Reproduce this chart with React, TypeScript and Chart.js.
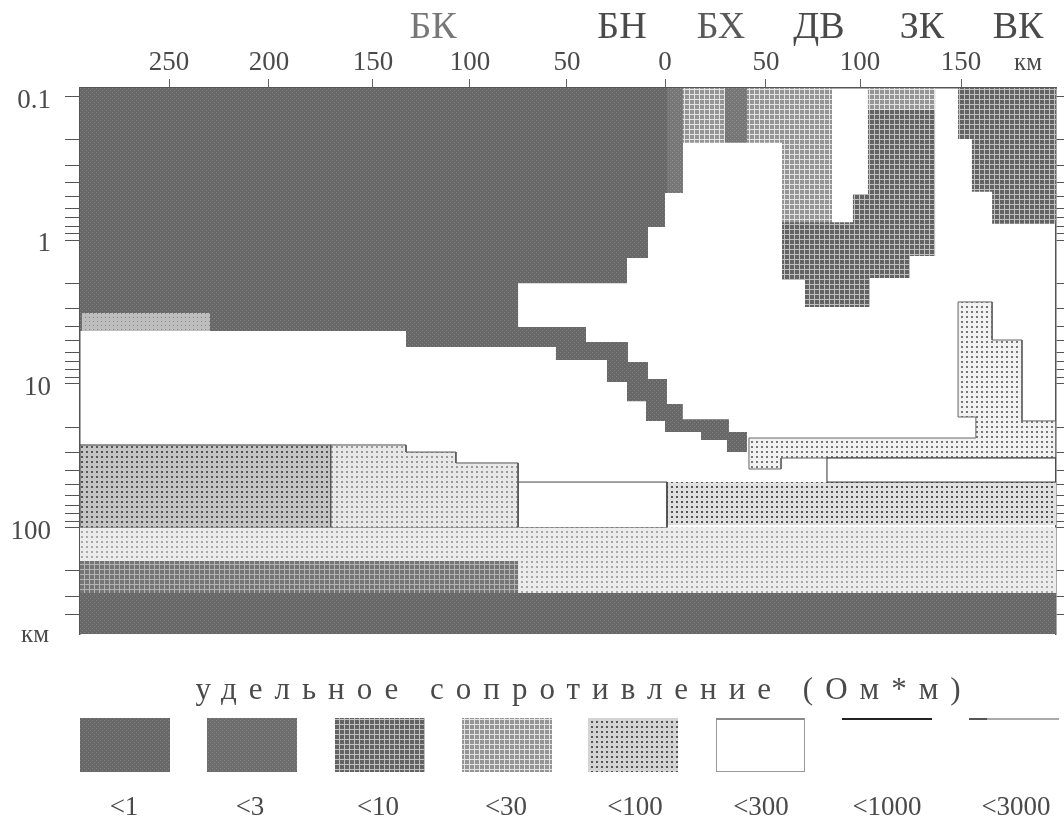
import React, { useEffect, useRef } from "react";
import { Chart, registerables } from "chart.js";

Chart.register(...registerables);

type Pair = [number, number]; // [distance km, depth km]

// Axis values
const xMin = -295.45;
const xMax = 197.47;
const depthMin = 0.0873;
const depthMax = 550;
const xTickValues = [-250.5, -200, -147.5, -98.5, -49.5, 0, 51, 98.5, 149.5];
const xTickLabels = ["250", "200", "150", "100", "50", "0", "50", "100", "150"];
const depthTicks = [0.1, 0.2, 0.3, 0.4, 0.5, 0.6, 0.7, 0.8, 0.9, 1, 2, 3, 4, 5, 6, 7, 8, 9, 10, 20, 30, 40, 50, 60, 70, 80, 90, 100, 200, 300, 400];
const depthLabels = [0.1, 1, 10, 100];

// Text
const stationNames = ["БК", "БН", "БХ", "ДВ", "ЗК", "ВК"];
const legendTitle = "удельное сопротивление (Ом*м)";
const legendLabels = ["<1", "<3", "<10", "<30", "<100", "<300", "<1000", "<3000"];

// Regions of the section, km / depth
const mainConductor: Pair[] = [[xMin, depthMin], [9, depthMin], [9, 0.47], [0, 0.47], [0, 0.81], [-8.6, 0.81], [-8.6, 1.33], [-19.2, 1.33], [-19.2, 1.99], [-74.2, 1.99], [-74.2, 4.02], [-39.9, 4.02], [-39.9, 5.11], [-18.7, 5.11], [-18.7, 7.04], [-8.6, 7.04], [-8.6, 9.24], [1, 9.24], [1, 13.8], [9, 13.8], [9, 17.6], [32.3, 17.6], [32.3, 21.6], [41.4, 21.6], [41.4, 29.8], [31.3, 29.8], [31.3, 24.6], [18.2, 24.6], [18.2, 21.6], [0, 21.6], [0, 18.1], [-9.6, 18.1], [-9.6, 13.2], [-19.2, 13.2], [-19.2, 9.7], [-29.3, 9.7], [-29.3, 6.82], [-55.1, 6.82], [-55.1, 5.54], [-130.8, 5.54], [-130.8, 4.28], [xMin, 4.28]];
const shallowStrip: Pair[] = [[1, depthMin], [9, depthMin], [9, 0.47], [1, 0.47]];
const topPatch: Pair[] = [[-294.5, 3.21], [-229.8, 3.21], [-229.8, 4.28], [-294.5, 4.28]];
const topBlockA: Pair[] = [[9, depthMin], [30.3, depthMin], [30.3, 0.21], [9, 0.21]];
const topBlockB: Pair[] = [[30.3, depthMin], [41.4, depthMin], [41.4, 0.21], [30.3, 0.21]];
const centralBody: Pair[] = [[59.1, depthMin], [84.3, depthMin], [84.3, 0.75], [94.9, 0.75], [94.9, 0.477], [102.5, 0.477], [102.5, depthMin], [136.4, depthMin], [136.4, 1.29], [123.7, 1.29], [123.7, 1.83], [103.5, 1.83], [103.5, 2.92], [70.7, 2.92], [70.7, 1.89], [59.1, 1.89]];
const centralLeft: Pair[] = [[41.4, depthMin], [84.3, depthMin], [84.3, 0.75], [59.1, 0.75], [59.1, 0.21], [41.4, 0.21]];
const centralRightCap: Pair[] = [[102.5, depthMin], [136.4, depthMin], [136.4, 0.124], [102.5, 0.124]];
const eastBody: Pair[] = [[148, depthMin], [xMax, depthMin], [xMax, 0.77], [165.2, 0.77], [165.2, 0.46], [155, 0.46], [155, 0.198], [148, 0.198]];
const eastBand: Pair[] = [[42.4, 23.8], [157, 23.8], [157, 17], [148, 17], [148, 2.69], [165.2, 2.69], [165.2, 4.95], [180.3, 4.95], [180.3, 18.1], [xMax, 18.1], [xMax, 32.8], [58.6, 32.8], [58.6, 39.1], [42.4, 39.1]];
const eastLower: Pair[] = [[1, 48.2], [xMax, 48.2], [xMax, 95.9], [1, 95.9]];
const resistiveA: Pair[] = [[-74.2, 48.2], [1, 48.2], [1, 100], [-74.2, 100]];
const resistiveB: Pair[] = [[81.8, 32.8], [xMax, 32.8], [xMax, 48.2], [81.8, 48.2]];
const westBlock: Pair[] = [[xMin, 26.6], [-168.7, 26.6], [-168.7, 100], [xMin, 100]];
const westSteps: Pair[] = [[-168.7, 26.6], [-130.8, 26.6], [-130.8, 29.8], [-105.6, 29.8], [-105.6, 35.5], [-74.2, 35.5], [-74.2, 100], [-168.7, 100]];
const deepLayer: Pair[] = [[xMin, 100], [xMax, 100], [xMax, 285], [-74.2, 285], [-74.2, 171], [xMin, 171]];
const deepWest: Pair[] = [[xMin, 171], [-74.2, 171], [-74.2, 285], [xMin, 285]];
const bottomLayer: Pair[] = [[xMin, 285], [xMax, 285], [xMax, depthMax], [xMin, depthMax]];

const regions: { label: string; points: Pair[]; tex: string; line?: string }[] = [
  { label: "<1", points: mainConductor, tex: "dark" },
  { label: "<3", points: shallowStrip, tex: "mid" },
  { label: "<100", points: topPatch, tex: "patch" },
  { label: "<30", points: topBlockA, tex: "grid30" },
  { label: "<3", points: topBlockB, tex: "mid" },
  { label: "<10", points: centralBody, tex: "grid10" },
  { label: "<30", points: centralLeft, tex: "grid30" },
  { label: "<30", points: centralRightCap, tex: "grid30" },
  { label: "<10", points: eastBody, tex: "grid10" },
  { label: "<100", points: eastBand, tex: "dots100", line: "#666666" },
  { label: "<30", points: eastLower, tex: "dots30b" },
  { label: "<300", points: resistiveA, tex: "white", line: "#444444" },
  { label: "<300", points: resistiveB, tex: "white", line: "#333333" },
  { label: "<30", points: westBlock, tex: "dots30", line: "#444444" },
  { label: "<100", points: westSteps, tex: "dots100b", line: "#555555" },
  { label: "<100", points: deepLayer, tex: "deep100" },
  { label: "<10", points: deepWest, tex: "grid10b" },
  { label: "<1", points: bottomLayer, tex: "dark" },
];

const SERIF = '"Liberation Serif", serif';
const INK = "#4a4a4a";

function tile(size: number, bg: string, fg: string, kind: "dots" | "grid" | "check", dot = 1): CanvasPattern {
  const c = document.createElement("canvas");
  c.width = size;
  c.height = size;
  const g = c.getContext("2d")!;
  g.fillStyle = bg;
  g.fillRect(0, 0, size, size);
  g.fillStyle = fg;
  if (kind === "dots") g.fillRect(1, 1, dot, dot);
  if (kind === "grid") {
    g.fillRect(size - 1, 0, 1, size);
    g.fillRect(0, size - 1, size, 1);
  }
  if (kind === "check") {
    g.fillRect(0, 0, 1, 1);
    g.fillRect(2, 2, 1, 1);
  }
  return g.createPattern(c, "repeat")!;
}

function makeTextures(): Record<string, CanvasPattern | string> {
  return {
    dark: tile(4, "#686868", "#828282", "check"),
    mid: tile(4, "#767676", "#929292", "check"),
    swatch3: tile(4, "#6d6d6d", "#868686", "check"),
    grid10: tile(5, "#636363", "#c0c0c0", "grid"),
    grid10b: tile(5, "#757575", "#b4b4b4", "grid"),
    grid30: tile(5, "#959595", "#e4e4e4", "grid"),
    patch: tile(4, "#bdbdbd", "#8a8a8a", "dots"),
    dots30: tile(5, "#c4c4c4", "#555555", "dots", 2),
    dots30b: tile(5, "#e0e0e0", "#555555", "dots", 2),
    dots100: tile(5, "#f2f2f2", "#777777", "dots", 2),
    dots100b: tile(5, "#e8e8e8", "#9a9a9a", "dots", 2),
    deep100: tile(5, "#ececec", "#a8a8a8", "dots", 2),
    swatch100: tile(5, "#d4d4d4", "#555555", "dots", 2),
    white: "#ffffff",
  };
}

export default function App() {
  const ref = useRef<HTMLCanvasElement>(null);

  useEffect(() => {
    const canvas = ref.current!;
    const tex = makeTextures();

    const overlay = {
      id: "overlay",
      afterDraw(chart: any) {
        const ctx: CanvasRenderingContext2D = chart.ctx;
        ctx.save();
        ctx.textBaseline = "middle";
        ctx.textAlign = "center";

        // Station names above the axis
        const stationX = [433, 622, 721, 819, 922, 1018];
        const stationInk = ["#777777", INK, "#5a5a5a", INK, INK, INK];
        ctx.font = `38px ${SERIF}`;
        stationNames.forEach((s, i) => {
          ctx.fillStyle = stationInk[i];
          ctx.fillText(s, stationX[i], 28);
        });

        // Unit labels
        ctx.fillStyle = INK;
        ctx.font = `25px ${SERIF}`;
        ctx.fillText("км", 1028, 63);
        ctx.fillText("км", 35, 635);

        // Legend heading
        ctx.font = `31px ${SERIF}`;
        (ctx as any).letterSpacing = "12px";
        ctx.fillText(legendTitle, 584, 691);
        (ctx as any).letterSpacing = "0px";

        // Legend swatches
        const swatchX = [80, 207, 335, 462, 588, 716, 842, 969];
        const swatchTex = ["dark", "swatch3", "grid10", "grid30", "swatch100", "white", "white", "white"];
        const labelX = [124, 250, 378, 506, 635, 761, 887, 1016];
        swatchX.forEach((x, i) => {
          ctx.fillStyle = tex[swatchTex[i]] as any;
          ctx.fillRect(x, 718, 90, 54);
          ctx.fillStyle = INK;
          ctx.font = `27px ${SERIF}`;
          ctx.fillText(legendLabels[i], labelX[i], 808);
        });
        ctx.strokeStyle = "#999999";
        ctx.lineWidth = 1;
        ctx.strokeRect(716.5, 718.5, 88, 53);
        ctx.fillStyle = "#888888";
        ctx.fillRect(716, 718, 88, 2);
        ctx.fillStyle = "#222222";
        ctx.fillRect(842, 718, 90, 2);
        ctx.fillStyle = "#555555";
        ctx.fillRect(969, 718, 18, 2);
        ctx.fillStyle = "#aaaaaa";
        ctx.fillRect(987, 718, 72, 2);
        ctx.restore();
      },
    };

    const chart = new Chart(canvas, {
      type: "line",
      data: {
        datasets: regions.map((r, i) => ({
          label: r.label,
          data: [...r.points, r.points[0]].map(([x, y]) => ({ x, y })),
          backgroundColor: tex[r.tex] as any,
          borderColor: r.line ?? "rgba(0,0,0,0)",
          borderWidth: r.line ? 1 : 0,
          fill: "shape",
          tension: 0,
          pointRadius: 0,
          order: regions.length - i,
        })),
      },
      options: {
        responsive: false,
        animation: false,
        devicePixelRatio: 1,
        layout: { padding: { left: 0, top: 0, right: 0, bottom: 185 } },
        plugins: { legend: { display: false }, tooltip: { enabled: false }, title: { display: false } },
        events: [],
        scales: {
          x: {
            type: "linear",
            position: "top",
            min: xMin,
            max: xMax,
            afterFit: (s: any) => {
              s.height = 88;
            },
            afterBuildTicks: (s: any) => {
              s.ticks = xTickValues.map((value) => ({ value }));
            },
            ticks: {
              autoSkip: false,
              maxRotation: 0,
              padding: 0,
              color: INK,
              font: { family: SERIF, size: 27 },
              callback: (_v: any, i: number) => xTickLabels[i],
            },
            grid: { drawOnChartArea: false, tickLength: 9, tickColor: "#666666", tickWidth: 1 },
            border: { color: "#555555", width: 1.5 },
          },
          y: {
            type: "logarithmic",
            position: "left",
            reverse: true,
            min: depthMin,
            max: depthMax,
            afterFit: (s: any) => {
              s.width = 80;
            },
            afterBuildTicks: (s: any) => {
              s.ticks = depthTicks.map((value) => ({ value }));
            },
            ticks: {
              autoSkip: false,
              maxRotation: 0,
              padding: 14,
              color: INK,
              // A blank first line with a tight line height nudges each label 4px below its tick.
              font: { family: SERIF, size: 27, lineHeight: 0.3 },
              callback: (v: any) => (depthLabels.includes(Number(v)) ? ["", String(v)] : ""),
            },
            grid: { drawOnChartArea: false, tickLength: 15, tickColor: "#555555", tickWidth: 1 },
            border: { color: "#555555", width: 1.5 },
          },
          y2: {
            type: "logarithmic",
            position: "right",
            reverse: true,
            min: depthMin,
            max: depthMax,
            afterFit: (s: any) => {
              s.width = 8;
            },
            afterBuildTicks: (s: any) => {
              s.ticks = depthTicks.map((value) => ({ value }));
            },
            ticks: { display: false, autoSkip: false },
            grid: { drawOnChartArea: false, tickLength: 8, tickColor: "#555555", tickWidth: 1 },
            border: { color: "#555555", width: 1.5 },
          },
        },
      },
      plugins: [overlay],
    } as any);

    return () => chart.destroy();
  }, []);

  return (
    <div style={{ position: "fixed", left: 0, top: 0, width: 1064, height: 819, background: "#ffffff" }}>
      <canvas ref={ref} width={1064} height={819} />
    </div>
  );
}
